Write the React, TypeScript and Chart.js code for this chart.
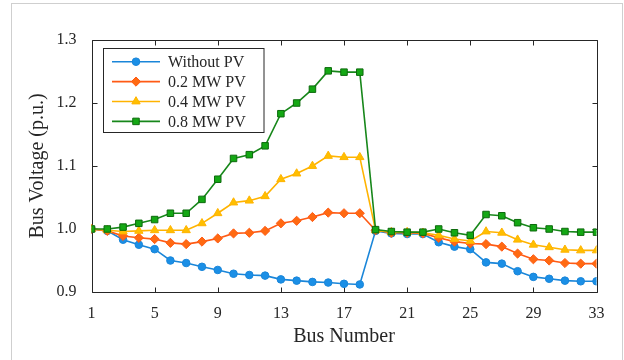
import React, { useEffect, useRef } from "react";
import { Chart, registerables } from "chart.js";
import { drawPoint } from "chart.js/helpers";

Chart.register(...registerables);

// Bus index along the feeder
const buses = [
  1, 2, 3, 4, 5, 6, 7, 8, 9, 10, 11, 12, 13, 14, 15, 16, 17, 18, 19, 20, 21,
  22, 23, 24, 25, 26, 27, 28, 29, 30, 31, 32, 33,
];

// Bus voltage profiles (p.u.)
const withoutPV = [
  1.0, 0.997, 0.983, 0.975, 0.968, 0.95, 0.946, 0.94, 0.935, 0.929, 0.927,
  0.926, 0.92, 0.918, 0.916, 0.915, 0.913, 0.912, 0.997, 0.993, 0.992, 0.992,
  0.979, 0.972, 0.968, 0.947, 0.945, 0.933, 0.924, 0.921, 0.918, 0.917, 0.917,
];
const pv02 = [
  1.0, 0.997, 0.989, 0.986, 0.984, 0.978, 0.976, 0.98, 0.985, 0.993, 0.994,
  0.997, 1.009, 1.013, 1.019, 1.026, 1.025, 1.025, 0.998, 0.994, 0.994, 0.993,
  0.986, 0.98, 0.977, 0.976, 0.972, 0.961, 0.952, 0.95, 0.946, 0.945, 0.945,
];
const pv04 = [
  1.0, 0.998, 0.996, 0.997, 0.998, 0.998, 0.998, 1.009, 1.025, 1.042, 1.045,
  1.052, 1.079, 1.088, 1.1, 1.116, 1.114, 1.114, 0.998, 0.995, 0.995, 0.994,
  0.99, 0.984, 0.981, 0.996, 0.994, 0.983, 0.975, 0.971, 0.967, 0.966, 0.966,
];
const pv08 = [
  1.0, 1.0, 1.003, 1.009, 1.015, 1.025, 1.025, 1.047, 1.079, 1.112, 1.118,
  1.132, 1.183, 1.2, 1.222, 1.251, 1.249, 1.249, 0.999, 0.996, 0.995, 0.995,
  1.0, 0.994, 0.99, 1.023, 1.021, 1.01, 1.002, 1.0, 0.996, 0.995, 0.995,
];

const seriesLabels = ["Without PV", "0.2 MW PV", "0.4 MW PV", "0.8 MW PV"];

// Axis ticks
const xTickValues = [1, 5, 9, 13, 17, 21, 25, 29, 33];
const yTickValues = [0.9, 1.0, 1.1, 1.2, 1.3];

const FONT = "'Liberation Serif', 'Times New Roman', serif";
const INK = "#262626";

type Style = {
  line: string;
  fill: string;
  border: string;
  pointStyle: string;
  radius: number;
};

const styles: Style[] = [
  { line: "#1a86d9", fill: "#1b8fe6", border: "#1a86d9", pointStyle: "circle", radius: 3.8 },
  { line: "#ff5a14", fill: "#ff6a12", border: "#ff5a14", pointStyle: "rectRot", radius: 4.6 },
  { line: "#ffb300", fill: "#ffbf00", border: "#ffb300", pointStyle: "triangle", radius: 4.8 },
  { line: "#17871a", fill: "#14a814", border: "#0d6a0d", pointStyle: "rect", radius: 4.6 },
];

const seriesValues = [withoutPV, pv02, pv04, pv08];

// Inner tick marks, box frame, page border and legend
const framePlugin = {
  id: "frame",
  beforeDraw(chart: any) {
    const ctx = chart.ctx;
    ctx.save();
    ctx.strokeStyle = "#cfcfcf";
    ctx.lineWidth = 1;
    ctx.strokeRect(11.5, 3.5, 611, 400);
    ctx.restore();
  },
  beforeDatasetsDraw(chart: any) {
    const { ctx, chartArea } = chart;
    const { left, right, top, bottom } = chartArea;
    const xs = chart.scales.x;
    const ys = chart.scales.y;
    const L = Math.round(left) + 0.5;
    const R = Math.round(right) + 0.5;
    const T = Math.round(top) + 0.5;
    const B = Math.round(bottom) + 0.5;
    ctx.save();
    ctx.strokeStyle = INK;
    ctx.lineWidth = 1;
    ctx.beginPath();
    ctx.rect(L, T, R - L, B - T);
    const tl = 5;
    xTickValues.forEach((v) => {
      const px = Math.round(xs.getPixelForValue(v)) + 0.5;
      ctx.moveTo(px, B);
      ctx.lineTo(px, B - tl);
      ctx.moveTo(px, T);
      ctx.lineTo(px, T + tl);
    });
    yTickValues.forEach((v) => {
      const py = Math.round(ys.getPixelForValue(v)) + 0.5;
      ctx.moveTo(L, py);
      ctx.lineTo(L + tl, py);
      ctx.moveTo(R, py);
      ctx.lineTo(R - tl, py);
    });
    ctx.stroke();
    ctx.restore();
  },
  afterDatasetsDraw(chart: any) {
    const ctx = chart.ctx;
    const bx = 103.5;
    const by = 48.5;
    const bw = 160.5;
    const bh = 84;
    ctx.save();
    ctx.fillStyle = "#ffffff";
    ctx.fillRect(bx, by, bw, bh);
    ctx.strokeStyle = INK;
    ctx.lineWidth = 1;
    ctx.strokeRect(bx, by, bw, bh);
    chart.data.datasets.forEach((ds: any, i: number) => {
      const st = styles[i];
      const y = 61.7 + i * 19.9;
      ctx.strokeStyle = st.line;
      ctx.lineWidth = 1.6;
      ctx.beginPath();
      ctx.moveTo(112, y);
      ctx.lineTo(160, y);
      ctx.stroke();
      ctx.fillStyle = st.fill;
      ctx.strokeStyle = st.border;
      ctx.lineWidth = 1;
      drawPoint(
        ctx,
        { pointStyle: st.pointStyle as any, radius: st.radius, rotation: 0, borderWidth: 1 },
        136,
        y
      );
      ctx.fillStyle = INK;
      ctx.font = `16px ${FONT}`;
      ctx.textAlign = "left";
      ctx.textBaseline = "middle";
      ctx.fillText(ds.label, 168, y + 1);
    });
    ctx.restore();
  },
};

export default function App() {
  const canvasRef = useRef<HTMLCanvasElement | null>(null);

  useEffect(() => {
    if (!canvasRef.current) return;
    const datasets = seriesValues.map((vals, i) => ({
      label: seriesLabels[i],
      data: buses.map((b, k) => ({ x: b, y: vals[k] })),
      borderColor: styles[i].line,
      backgroundColor: styles[i].fill,
      pointBackgroundColor: styles[i].fill,
      pointBorderColor: styles[i].border,
      pointBorderWidth: 1,
      pointStyle: styles[i].pointStyle,
      pointRadius: styles[i].radius,
      borderWidth: 1.6,
      tension: 0,
      fill: false,
      order: 3 - i,
    }));

    const chart = new Chart(canvasRef.current, {
      type: "line",
      data: { datasets: datasets as any },
      options: {
        responsive: false,
        animation: false,
        devicePixelRatio: 1,
        layout: { padding: { top: 40, right: 27.5, left: 0, bottom: 0 } },
        plugins: {
          legend: { display: false },
          tooltip: { enabled: false },
        },
        scales: {
          x: {
            type: "linear",
            min: 1,
            max: 33,
            grid: { display: false },
            border: { display: false },
            afterBuildTicks: (s: any) => {
              s.ticks = xTickValues.map((v) => ({ value: v }));
            },
            afterFit: (s: any) => {
              s.height = 68;
            },
            ticks: {
              padding: 4,
              color: INK,
              font: { family: FONT, size: 16 },
              maxRotation: 0,
              autoSkip: false,
              callback: (v: any) => String(v),
            },
            title: {
              display: true,
              text: "Bus Number",
              color: INK,
              font: { family: FONT, size: 20 },
              padding: { top: 0, bottom: 11 },
            },
          },
          y: {
            type: "linear",
            min: 0.9,
            max: 1.3,
            grid: { display: false },
            border: { display: false },
            afterBuildTicks: (s: any) => {
              s.ticks = yTickValues.map((v) => ({ value: v }));
            },
            afterFit: (s: any) => {
              s.width = 91.5;
            },
            ticks: {
              padding: 7,
              color: INK,
              font: { family: FONT, size: 16 },
              callback: (v: any) => Number(v).toFixed(1),
            },
            title: {
              display: true,
              text: "Bus Voltage (p.u.)",
              color: INK,
              font: { family: FONT, size: 20 },
              padding: { top: 26, bottom: 0 },
            },
          },
        },
      },
      plugins: [framePlugin],
    });
    return () => chart.destroy();
  }, []);

  return (
    <div
      style={{
        position: "fixed",
        left: 0,
        top: 0,
        width: 624,
        height: 360,
        background: "#ffffff",
      }}
    >
      <canvas ref={canvasRef} width={624} height={360} />
    </div>
  );
}
